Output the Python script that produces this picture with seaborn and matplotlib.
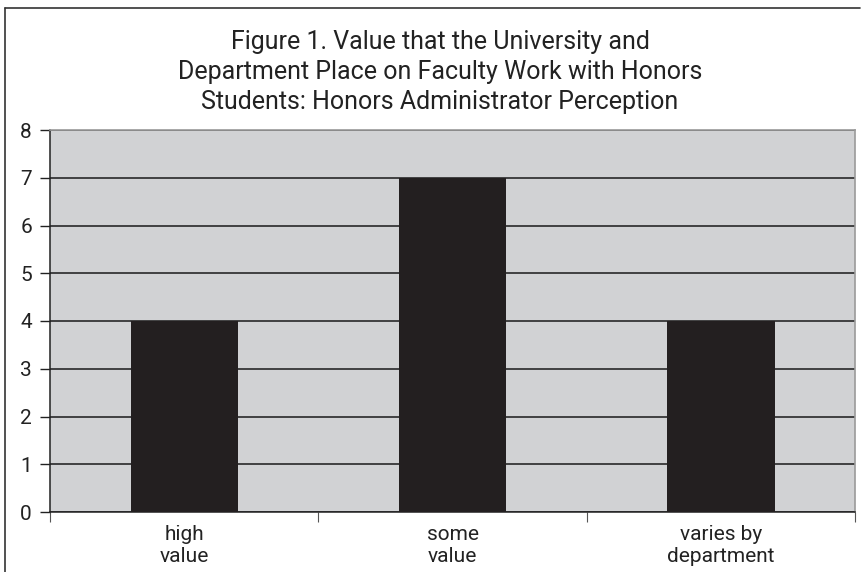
import matplotlib
matplotlib.use("Agg")
import matplotlib.pyplot as plt
import seaborn as sns
import pandas as pd
from matplotlib.lines import Line2D
from matplotlib.ticker import FixedLocator

# ── Data ────────────────────────────────────────────────
categories = ["high\nvalue", "some\nvalue", "varies by\ndepartment"]
counts = [4, 7, 4]
y_ticks = [0, 1, 2, 3, 4, 5, 6, 7, 8]

TITLE = ("Figure 1. Value that the University and\n"
         "Department Place on Faculty Work with Honors\n"
         "Students: Honors Administrator Perception")

df = pd.DataFrame({"category": categories, "count": counts})

sns.set_style("white")
plt.rcParams["font.family"] = ["Roboto", "DejaVu Sans"]

fig = plt.figure(figsize=(8.66, 5.72), dpi=100)
ax = fig.add_axes([50 / 866, 1 - 512 / 572, 805 / 866, 382 / 572])

ax.set_facecolor("#d1d2d4")
sns.barplot(data=df, x="category", y="count", color="#231f20",
            width=0.4, saturation=1, edgecolor="#231f20", linewidth=0,
            ax=ax, zorder=3)

ax.set_ylim(0, 8)
ax.set_xlim(-0.5, len(categories) - 0.5)
ax.set_yticks(y_ticks)
ax.yaxis.grid(True, color="#1a1a1a", linewidth=1.1, zorder=1)
ax.set_axisbelow(True)

ax.set_xlabel("")
ax.set_ylabel("")

# category boundaries as tick marks
ax.xaxis.set_minor_locator(FixedLocator([i - 0.5 for i in range(len(categories) + 1)]))
ax.tick_params(axis="x", which="major", bottom=True, length=0, labelsize=15,
               pad=9, labelcolor="#222222")
ax.tick_params(axis="x", which="minor", bottom=True, length=7, width=0.8,
               color="#555555")
ax.tick_params(axis="y", which="major", left=True, length=7, width=1,
               color="#222222", labelsize=15, pad=6, labelcolor="#222222")

for side in ["left", "bottom"]:
    ax.spines[side].set_color("#222222")
    ax.spines[side].set_linewidth(1.1)
for side in ["top", "right"]:
    ax.spines[side].set_visible(True)
    ax.spines[side].set_color("#9a9a9a")
    ax.spines[side].set_linewidth(1.2)

fig.text(440 / 866, 1 - 72 / 572, TITLE, ha="center", va="center",
         fontsize=18, linespacing=1.3, color="#222222")

# page frame (left and top edge)
fig.add_artist(Line2D([5 / 866, 5 / 866], [0, 1 - 8 / 572],
                      transform=fig.transFigure, color="#333333", linewidth=1.2))
fig.add_artist(Line2D([5 / 866, 860 / 866], [1 - 8 / 572, 1 - 8 / 572],
                      transform=fig.transFigure, color="#333333", linewidth=1.2))

fig.savefig("out.png", dpi=100)
